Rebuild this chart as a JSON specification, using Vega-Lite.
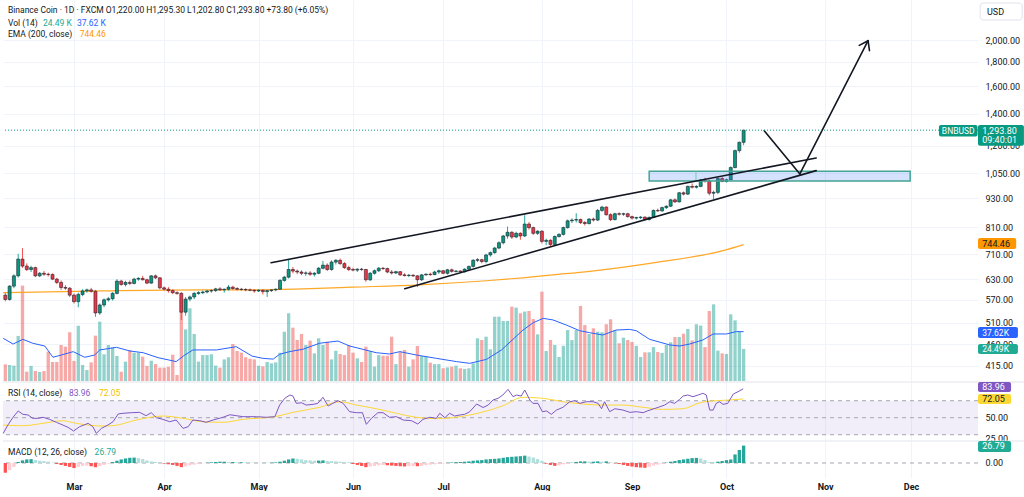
{
"$schema": "https://vega.github.io/schema/vega-lite/v6.json",
"padding": 0,
"background": "#ffffff",
"bounds": "flush",
"spacing": 1,
"config": {
  "view": {"stroke": null},
  "font": "Roboto",
  "axis": {"labelFont": "Roboto", "labelFontSize": 9, "labelColor": "#131722", "domain": false, "ticks": false, "gridColor": "#f0f3fa", "gridWidth": 1, "labelOverlap": false, "labelFlush": false, "zindex": 0},
  "text": {"font": "Roboto"}
},
"datasets": {
"candles": [
{"i":-16,"o":583,"h":590,"l":566,"c":571,"v":12.7,"m":-15},
{"i":-15,"o":571,"h":612,"l":568,"c":609,"v":12.2,"m":-11},
{"i":-14,"o":609,"h":645,"l":603,"c":640,"v":11.7,"m":-6},
{"i":-13,"o":640,"h":712,"l":635,"c":694,"v":34.4,"m":1.5},
{"i":-12,"o":694,"h":732,"l":665,"c":671,"v":72.8,"m":4},
{"i":-11,"o":671,"h":680,"l":655,"c":660,"v":7.1,"m":5.5},
{"i":-10,"o":660,"h":672,"l":652,"c":666,"v":11.5,"m":5.9},
{"i":-9,"o":666,"h":669,"l":636,"c":640,"v":7.6,"m":4.5},
{"i":-8,"o":640,"h":652,"l":636,"c":648,"v":6.9,"m":3.5},
{"i":-7,"o":648,"h":655,"l":640,"c":645,"v":7.6,"m":3},
{"i":-6,"o":645,"h":650,"l":638,"c":644,"v":22.4,"m":2},
{"i":-5,"o":644,"h":648,"l":627,"c":630,"v":14.5,"m":0.5},
{"i":-4,"o":630,"h":634,"l":615,"c":620,"v":14.5,"m":-1.5},
{"i":-3,"o":620,"h":626,"l":598,"c":605,"v":27.5,"m":-3},
{"i":-2,"o":605,"h":612,"l":598,"c":603,"v":26.2,"m":-4.5},
{"i":-1,"o":603,"h":606,"l":578,"c":583,"v":37.2,"m":-6},
{"i":0,"o":583,"h":588,"l":560,"c":565,"v":15.3,"m":-7.8},
{"i":1,"o":565,"h":590,"l":550,"c":585,"v":42.2,"m":-6},
{"i":2,"o":585,"h":600,"l":580,"c":595,"v":12.2,"m":-4.5},
{"i":3,"o":595,"h":602,"l":590,"c":598,"v":8.4,"m":-4},
{"i":4,"o":598,"h":604,"l":590,"c":594,"v":14.2,"m":-5},
{"i":5,"o":594,"h":598,"l":525,"c":535,"v":34.6,"m":-6.5},
{"i":6,"o":535,"h":560,"l":530,"c":556,"v":45.3,"m":-5},
{"i":7,"o":556,"h":574,"l":550,"c":570,"v":20.4,"m":-3},
{"i":8,"o":570,"h":578,"l":565,"c":573,"v":27.5,"m":-1},
{"i":9,"o":573,"h":592,"l":568,"c":588,"v":25.7,"m":1.5},
{"i":10,"o":588,"h":630,"l":585,"c":624,"v":19.1,"m":3.5},
{"i":11,"o":624,"h":628,"l":610,"c":614,"v":7.1,"m":5.5},
{"i":12,"o":614,"h":625,"l":608,"c":620,"v":14.8,"m":7},
{"i":13,"o":620,"h":626,"l":612,"c":617,"v":23.7,"m":8},
{"i":14,"o":617,"h":634,"l":614,"c":630,"v":21.6,"m":8.3},
{"i":15,"o":630,"h":636,"l":625,"c":632,"v":21.6,"m":7.5},
{"i":16,"o":632,"h":640,"l":626,"c":628,"v":18.6,"m":6},
{"i":17,"o":628,"h":632,"l":615,"c":618,"v":11.5,"m":4},
{"i":18,"o":618,"h":642,"l":616,"c":640,"v":15.5,"m":2.5},
{"i":19,"o":640,"h":644,"l":630,"c":634,"v":13,"m":1.5},
{"i":20,"o":634,"h":636,"l":600,"c":604,"v":10.2,"m":0.5},
{"i":21,"o":604,"h":608,"l":596,"c":600,"v":10.2,"m":-1},
{"i":22,"o":600,"h":606,"l":590,"c":596,"v":10.9,"m":-2},
{"i":23,"o":596,"h":600,"l":586,"c":590,"v":20.1,"m":-3},
{"i":24,"o":590,"h":594,"l":584,"c":588,"v":4.6,"m":-4.5},
{"i":25,"o":588,"h":592,"l":517,"c":537,"v":61.8,"m":-6.4},
{"i":26,"o":537,"h":578,"l":528,"c":572,"v":39.4,"m":-5},
{"i":27,"o":572,"h":582,"l":566,"c":578,"v":55.5,"m":-3.5},
{"i":28,"o":578,"h":592,"l":572,"c":588,"v":35.9,"m":-2.5},
{"i":29,"o":588,"h":594,"l":584,"c":590,"v":14.8,"m":-1.5},
{"i":30,"o":590,"h":596,"l":586,"c":592,"v":19.8,"m":-0.5},
{"i":31,"o":592,"h":598,"l":588,"c":595,"v":19.8,"m":0.5},
{"i":32,"o":595,"h":600,"l":590,"c":596,"v":20.4,"m":1},
{"i":33,"o":596,"h":604,"l":592,"c":601,"v":11.7,"m":1.5},
{"i":34,"o":601,"h":606,"l":595,"c":598,"v":10.2,"m":2},
{"i":35,"o":598,"h":602,"l":590,"c":600,"v":16.5,"m":2},
{"i":36,"o":600,"h":612,"l":596,"c":606,"v":18.1,"m":1.5},
{"i":37,"o":606,"h":610,"l":598,"c":602,"v":28.2,"m":1.5},
{"i":38,"o":602,"h":606,"l":596,"c":600,"v":22.9,"m":1},
{"i":39,"o":600,"h":604,"l":596,"c":599,"v":21.6,"m":1},
{"i":40,"o":599,"h":603,"l":594,"c":598,"v":18.1,"m":0.8},
{"i":41,"o":598,"h":602,"l":594,"c":597,"v":17,"m":0.6},
{"i":42,"o":597,"h":600,"l":590,"c":595,"v":16.5,"m":0.4},
{"i":43,"o":595,"h":600,"l":592,"c":597,"v":11.7,"m":0.3},
{"i":44,"o":597,"h":600,"l":585,"c":593,"v":11.2,"m":0.2},
{"i":45,"o":593,"h":598,"l":578,"c":596,"v":14.5,"m":0.2},
{"i":46,"o":596,"h":600,"l":592,"c":598,"v":13.5,"m":0.5},
{"i":47,"o":598,"h":602,"l":594,"c":600,"v":14.2,"m":1},
{"i":48,"o":600,"h":630,"l":598,"c":626,"v":21.6,"m":2},
{"i":49,"o":626,"h":640,"l":622,"c":636,"v":37.6,"m":3.5},
{"i":50,"o":636,"h":692,"l":632,"c":660,"v":51.7,"m":5.5},
{"i":51,"o":660,"h":668,"l":648,"c":655,"v":40.7,"m":6.9},
{"i":52,"o":655,"h":660,"l":645,"c":652,"v":31.3,"m":6.5},
{"i":53,"o":652,"h":657,"l":642,"c":648,"v":35.9,"m":5.5},
{"i":54,"o":648,"h":654,"l":640,"c":649,"v":27.5,"m":4.5},
{"i":55,"o":649,"h":655,"l":640,"c":645,"v":30.8,"m":4},
{"i":56,"o":645,"h":652,"l":638,"c":648,"v":21.1,"m":3.5},
{"i":57,"o":648,"h":668,"l":645,"c":664,"v":32.6,"m":3.7},
{"i":58,"o":664,"h":688,"l":660,"c":674,"v":27.5,"m":4},
{"i":59,"o":674,"h":680,"l":655,"c":660,"v":30,"m":3},
{"i":60,"o":660,"h":690,"l":656,"c":684,"v":16.5,"m":2.8},
{"i":61,"o":684,"h":694,"l":676,"c":690,"v":23.1,"m":2.5},
{"i":62,"o":690,"h":696,"l":675,"c":679,"v":20.6,"m":2},
{"i":63,"o":679,"h":684,"l":662,"c":666,"v":19.8,"m":1.5},
{"i":64,"o":666,"h":672,"l":655,"c":660,"v":27.5,"m":1},
{"i":65,"o":660,"h":666,"l":654,"c":658,"v":21.6,"m":-1.5},
{"i":66,"o":658,"h":664,"l":652,"c":661,"v":17.3,"m":-3},
{"i":67,"o":661,"h":665,"l":655,"c":660,"v":14.5,"m":-4.5},
{"i":68,"o":660,"h":662,"l":622,"c":628,"v":26.2,"m":-6.4},
{"i":69,"o":628,"h":652,"l":624,"c":648,"v":22.9,"m":-5.5},
{"i":70,"o":648,"h":660,"l":644,"c":656,"v":11,"m":-4.5},
{"i":71,"o":656,"h":668,"l":652,"c":664,"v":19.8,"m":-3.5},
{"i":72,"o":664,"h":668,"l":658,"c":663,"v":19.3,"m":-3},
{"i":73,"o":663,"h":666,"l":648,"c":652,"v":19.3,"m":-3.5},
{"i":74,"o":652,"h":658,"l":644,"c":649,"v":33.8,"m":-4},
{"i":75,"o":649,"h":656,"l":646,"c":653,"v":12.9,"m":-4.5},
{"i":76,"o":653,"h":655,"l":640,"c":643,"v":22.4,"m":-5},
{"i":77,"o":643,"h":648,"l":638,"c":641,"v":23.7,"m":-5.3},
{"i":78,"o":641,"h":646,"l":636,"c":642,"v":11,"m":-5},
{"i":79,"o":642,"h":645,"l":636,"c":640,"v":16.5,"m":-4.5},
{"i":80,"o":640,"h":642,"l":606,"c":628,"v":26.7,"m":-5},
{"i":81,"o":628,"h":646,"l":624,"c":643,"v":19,"m":-4.5},
{"i":82,"o":643,"h":648,"l":640,"c":645,"v":18.6,"m":-3.5},
{"i":83,"o":645,"h":650,"l":640,"c":644,"v":14,"m":-2.5},
{"i":84,"o":644,"h":656,"l":642,"c":652,"v":12.9,"m":-2},
{"i":85,"o":652,"h":660,"l":646,"c":656,"v":12.9,"m":-1.5},
{"i":86,"o":656,"h":658,"l":645,"c":648,"v":9.7,"m":-0.8},
{"i":87,"o":648,"h":662,"l":644,"c":659,"v":10.4,"m":0.3},
{"i":88,"o":659,"h":663,"l":650,"c":654,"v":11,"m":0.8},
{"i":89,"o":654,"h":658,"l":650,"c":655,"v":11.7,"m":1.2},
{"i":90,"o":655,"h":658,"l":650,"c":653,"v":9.7,"m":1.5},
{"i":91,"o":653,"h":664,"l":650,"c":661,"v":9.2,"m":2},
{"i":92,"o":661,"h":672,"l":658,"c":670,"v":9.7,"m":2.5},
{"i":93,"o":670,"h":694,"l":666,"c":690,"v":13.5,"m":3.5},
{"i":94,"o":690,"h":697,"l":684,"c":692,"v":32.6,"m":4},
{"i":95,"o":692,"h":695,"l":680,"c":686,"v":31.3,"m":4.5},
{"i":96,"o":686,"h":712,"l":680,"c":708,"v":33.8,"m":5.5},
{"i":97,"o":708,"h":720,"l":702,"c":716,"v":24.2,"m":6},
{"i":98,"o":716,"h":736,"l":712,"c":732,"v":49.1,"m":6.4},
{"i":99,"o":732,"h":756,"l":728,"c":751,"v":49.1,"m":7},
{"i":100,"o":751,"h":780,"l":745,"c":776,"v":45.8,"m":8},
{"i":101,"o":776,"h":812,"l":766,"c":790,"v":45.8,"m":9},
{"i":102,"o":790,"h":794,"l":765,"c":772,"v":56.7,"m":9.5},
{"i":103,"o":772,"h":792,"l":768,"c":786,"v":56,"m":10},
{"i":104,"o":786,"h":790,"l":762,"c":776,"v":51.7,"m":10.5},
{"i":105,"o":776,"h":858,"l":772,"c":822,"v":53,"m":11.3},
{"i":106,"o":822,"h":830,"l":800,"c":808,"v":53.4,"m":10},
{"i":107,"o":808,"h":812,"l":780,"c":786,"v":47.3,"m":8.5},
{"i":108,"o":786,"h":798,"l":780,"c":794,"v":35.6,"m":6},
{"i":109,"o":794,"h":798,"l":748,"c":756,"v":68.2,"m":3.5},
{"i":110,"o":756,"h":766,"l":742,"c":760,"v":22.9,"m":-1},
{"i":111,"o":760,"h":764,"l":738,"c":745,"v":31.3,"m":-3},
{"i":112,"o":745,"h":778,"l":742,"c":774,"v":27.5,"m":-4.4},
{"i":113,"o":774,"h":786,"l":770,"c":782,"v":18.3,"m":-3.5},
{"i":114,"o":782,"h":812,"l":778,"c":808,"v":26.9,"m":-2},
{"i":115,"o":808,"h":840,"l":804,"c":835,"v":38.9,"m":-1},
{"i":116,"o":835,"h":845,"l":826,"c":838,"v":31.2,"m":0.5},
{"i":117,"o":838,"h":866,"l":828,"c":840,"v":38.9,"m":1.5},
{"i":118,"o":840,"h":844,"l":822,"c":828,"v":57.3,"m":2.5},
{"i":119,"o":828,"h":834,"l":816,"c":824,"v":42.7,"m":2.5},
{"i":120,"o":824,"h":846,"l":820,"c":842,"v":35.9,"m":2},
{"i":121,"o":842,"h":848,"l":832,"c":838,"v":40.2,"m":2},
{"i":122,"o":838,"h":884,"l":834,"c":878,"v":37.7,"m":2.5},
{"i":123,"o":878,"h":898,"l":872,"c":892,"v":37.2,"m":2},
{"i":124,"o":892,"h":896,"l":856,"c":860,"v":43.3,"m":2.5},
{"i":125,"o":860,"h":866,"l":834,"c":840,"v":47.1,"m":1},
{"i":126,"o":840,"h":868,"l":836,"c":864,"v":38.9,"m":-0.5},
{"i":127,"o":864,"h":870,"l":856,"c":862,"v":28.8,"m":-1.5},
{"i":128,"o":862,"h":868,"l":855,"c":864,"v":33.1,"m":-3},
{"i":129,"o":864,"h":868,"l":848,"c":852,"v":31.3,"m":-4.5},
{"i":130,"o":852,"h":856,"l":840,"c":846,"v":29.8,"m":-5.5},
{"i":131,"o":846,"h":852,"l":840,"c":848,"v":26.9,"m":-6.5},
{"i":132,"o":848,"h":854,"l":842,"c":850,"v":18.3,"m":-7},
{"i":133,"o":850,"h":853,"l":836,"c":840,"v":21.9,"m":-7.4},
{"i":134,"o":840,"h":852,"l":836,"c":849,"v":21.9,"m":-6},
{"i":135,"o":849,"h":882,"l":846,"c":878,"v":25.9,"m":-4},
{"i":136,"o":878,"h":886,"l":872,"c":876,"v":22.1,"m":-2.5},
{"i":137,"o":876,"h":894,"l":872,"c":890,"v":21.4,"m":-1},
{"i":138,"o":890,"h":900,"l":884,"c":896,"v":27.5,"m":0.5},
{"i":139,"o":896,"h":928,"l":892,"c":924,"v":29.5,"m":2},
{"i":140,"o":924,"h":930,"l":910,"c":915,"v":33.6,"m":3},
{"i":141,"o":915,"h":960,"l":912,"c":956,"v":33.6,"m":4.5},
{"i":142,"o":956,"h":962,"l":944,"c":950,"v":36.1,"m":5.5},
{"i":143,"o":950,"h":990,"l":946,"c":986,"v":39.7,"m":6.5},
{"i":144,"o":986,"h":1000,"l":976,"c":982,"v":31,"m":7.5},
{"i":145,"o":982,"h":992,"l":976,"c":986,"v":43.3,"m":7.8},
{"i":146,"o":986,"h":1022,"l":982,"c":1016,"v":42.3,"m":7},
{"i":147,"o":1016,"h":1028,"l":1004,"c":1012,"v":25.9,"m":4.5},
{"i":148,"o":1012,"h":1018,"l":944,"c":954,"v":53.4,"m":1.5},
{"i":149,"o":954,"h":966,"l":928,"c":958,"v":58.5,"m":1},
{"i":150,"o":958,"h":1030,"l":950,"c":1024,"v":23.2,"m":2},
{"i":151,"o":1024,"h":1032,"l":1006,"c":1010,"v":21.1,"m":3},
{"i":152,"o":1010,"h":1024,"l":1004,"c":1018,"v":20.6,"m":4.4},
{"i":153,"o":1018,"h":1086,"l":1014,"c":1080,"v":50.9,"m":5.4},
{"i":154,"o":1080,"h":1178,"l":1076,"c":1172,"v":46.3,"m":13.2},
{"i":155,"o":1172,"h":1225,"l":1160,"c":1220,"v":37.7,"m":20},
{"i":156,"o":1220,"h":1295.3,"l":1202.8,"c":1293.8,"v":24.49,"m":26.79}
],
"ema": [
{"i":-16.5,"e":590},{"i":6.8,"e":595},{"i":30,"e":598},{"i":41.7,"e":598},{"i":53.4,"e":601},{"i":65,"e":606},{"i":80.5,"e":613},{"i":96,"e":625},{"i":104.6,"e":634},{"i":111.6,"e":643},{"i":120.1,"e":654},{"i":135.7,"e":683},{"i":151.2,"e":723},{"i":156,"e":744.46}
],
"vma": [
{"i":-16.5,"v":32.6},{"i":-14.2,"v":28.2},{"i":-11.9,"v":31.8},{"i":-9.6,"v":28.8},{"i":-6.8,"v":26.7},{"i":-4.9,"v":18.1},{"i":-3,"v":19.8},{"i":-0.2,"v":22.4},{"i":2.5,"v":18.1},{"i":4.8,"v":19.8},{"i":6,"v":23.7},{"i":9.9,"v":25.7},{"i":13,"v":22.9},{"i":16.1,"v":21.6},{"i":19.6,"v":17.8},{"i":23.8,"v":14.8},{"i":25.8,"v":19.8},{"i":27.7,"v":23.7},{"i":33.2,"v":23.7},{"i":37.8,"v":26.2},{"i":41.5,"v":19},{"i":44,"v":17.3},{"i":46.4,"v":16.7},{"i":47.9,"v":20.4},{"i":50.2,"v":22.4},{"i":53.3,"v":24.2},{"i":57.2,"v":28.8},{"i":61.5,"v":30.5},{"i":64.2,"v":26.7},{"i":67.3,"v":24.2},{"i":70.4,"v":21.6},{"i":73.5,"v":20.6},{"i":75.9,"v":22.4},{"i":79.8,"v":19.8},{"i":84.4,"v":17.3},{"i":89.1,"v":14.8},{"i":92.2,"v":13.5},{"i":96.1,"v":16.5},{"i":99.6,"v":23.7},{"i":104.6,"v":38.9},{"i":107,"v":44.5},{"i":109.3,"v":47.8},{"i":111.6,"v":46.6},{"i":114.7,"v":42.7},{"i":117.8,"v":38.4},{"i":120.1,"v":36.9},{"i":123.2,"v":35.1},{"i":126.3,"v":38.9},{"i":129.4,"v":39.4},{"i":131,"v":38.4},{"i":134.1,"v":31.8},{"i":138.8,"v":27.5},{"i":141.1,"v":26.7},{"i":143.4,"v":28.2},{"i":146.5,"v":31.3},{"i":148.9,"v":35.9},{"i":152,"v":35.9},{"i":154.3,"v":37.7},{"i":156,"v":37.62}
],
"rsi": [
{"i":-16.5,"r":31.6},{"i":-15.4,"r":41.4},{"i":-14.2,"r":50.5},{"i":-13,"r":57.9},{"i":-11.9,"r":54},{"i":-10.7,"r":53.2},{"i":-9.6,"r":49.3},{"i":-8.4,"r":49.3},{"i":-7.2,"r":50.5},{"i":-5.7,"r":48.1},{"i":-4.1,"r":44.6},{"i":-2.6,"r":41.4},{"i":-1.4,"r":38.7},{"i":-0.1,"r":34.4},{"i":1.3,"r":39.4},{"i":3.3,"r":43.4},{"i":4.4,"r":39.4},{"i":5.2,"r":31.6},{"i":6.4,"r":37.5},{"i":7.9,"r":41.4},{"i":9.1,"r":45.3},{"i":10.3,"r":54.4},{"i":11.4,"r":55.2},{"i":13.4,"r":55.9},{"i":15.3,"r":56.3},{"i":16.8,"r":52.4},{"i":18,"r":55.9},{"i":19.2,"r":50},{"i":20.7,"r":48.1},{"i":22.3,"r":45.3},{"i":23.8,"r":47.3},{"i":25.4,"r":37.5},{"i":26.6,"r":39.4},{"i":27.7,"r":47.3},{"i":29.3,"r":46.5},{"i":30.8,"r":44.6},{"i":32.4,"r":47.3},{"i":34.7,"r":50.5},{"i":36.3,"r":53.5},{"i":37.8,"r":52.4},{"i":39.4,"r":51.2},{"i":42.5,"r":51.2},{"i":44.8,"r":50.5},{"i":46.8,"r":51.2},{"i":47.9,"r":64.9},{"i":49.1,"r":72.8},{"i":50.3,"r":76.7},{"i":51,"r":75.5},{"i":51.8,"r":66.9},{"i":53,"r":67.6},{"i":54.1,"r":64.9},{"i":55.7,"r":65.7},{"i":56.8,"r":66.9},{"i":58,"r":74},{"i":59.2,"r":63.8},{"i":60.3,"r":66.9},{"i":61.5,"r":70},{"i":62.7,"r":66.9},{"i":64.2,"r":57.1},{"i":65.8,"r":55.9},{"i":67.2,"r":55.9},{"i":68.1,"r":42.2},{"i":69.3,"r":49.3},{"i":70.8,"r":55.9},{"i":72,"r":55.9},{"i":73.5,"r":50.5},{"i":75.1,"r":51.2},{"i":76.7,"r":47.3},{"i":78.6,"r":46.5},{"i":80.1,"r":42.6},{"i":81.3,"r":48.1},{"i":82.9,"r":50.5},{"i":84.4,"r":49.3},{"i":85.2,"r":55.2},{"i":86.4,"r":50},{"i":87.5,"r":55.2},{"i":88.7,"r":52},{"i":89.9,"r":53.2},{"i":91,"r":54},{"i":92.2,"r":57.1},{"i":93.8,"r":66.1},{"i":95.3,"r":62},{"i":96.5,"r":64.9},{"i":97.6,"r":70.8},{"i":98.8,"r":72.8},{"i":99.9,"r":76.7},{"i":101.1,"r":83.3},{"i":102.3,"r":74.7},{"i":103.1,"r":76.7},{"i":104.2,"r":75.5},{"i":105,"r":82.6},{"i":106.2,"r":70.8},{"i":106.9,"r":66.9},{"i":108.1,"r":66.9},{"i":109.1,"r":57.1},{"i":110.1,"r":57.9},{"i":111.2,"r":54},{"i":112.4,"r":59},{"i":113.9,"r":62.2},{"i":115.5,"r":68.8},{"i":116.7,"r":70},{"i":117.8,"r":66.9},{"i":119.4,"r":68.8},{"i":120.9,"r":68.8},{"i":122.1,"r":66.9},{"i":122.9,"r":60.6},{"i":123.6,"r":68.8},{"i":124.8,"r":57.1},{"i":126,"r":60.6},{"i":127.9,"r":59},{"i":129.5,"r":56.3},{"i":131,"r":57.1},{"i":132.6,"r":55.9},{"i":133.7,"r":58.2},{"i":134.9,"r":60.2},{"i":136.5,"r":62.9},{"i":137.6,"r":64.9},{"i":138.8,"r":68.8},{"i":139.9,"r":66.9},{"i":141.1,"r":71.6},{"i":141.9,"r":75.5},{"i":143,"r":76.7},{"i":144.2,"r":74.7},{"i":145.4,"r":76.7},{"i":146.5,"r":78.7},{"i":147.3,"r":76.7},{"i":148.1,"r":59},{"i":148.9,"r":59},{"i":149.6,"r":66.9},{"i":150.4,"r":68.8},{"i":151.2,"r":65.7},{"i":152.3,"r":66.9},{"i":153.6,"r":77.9},{"i":154.7,"r":80.6},{"i":155.9,"r":83.96}
],
"rsima": [
{"i":-16.5,"r":41.4},{"i":-11.9,"r":40.6},{"i":-7.2,"r":43.4},{"i":-2.6,"r":46.5},{"i":0.5,"r":43.4},{"i":6.8,"r":40.2},{"i":9.1,"r":40.6},{"i":14.5,"r":47.3},{"i":20.7,"r":52},{"i":25.4,"r":49.3},{"i":30,"r":45.3},{"i":34.7,"r":44.6},{"i":39.4,"r":48.1},{"i":46.8,"r":51.2},{"i":51,"r":56.3},{"i":57.2,"r":62.2},{"i":61.9,"r":68.8},{"i":65.8,"r":64.9},{"i":70.4,"r":60.6},{"i":75.1,"r":55.2},{"i":79.7,"r":50.5},{"i":84.4,"r":48.9},{"i":92.2,"r":53.2},{"i":99.9,"r":64},{"i":104.6,"r":74},{"i":109.3,"r":72.8},{"i":113.9,"r":68.8},{"i":118.6,"r":66.1},{"i":123.3,"r":64.9},{"i":127.9,"r":64.9},{"i":132.6,"r":62.2},{"i":137.3,"r":59.8},{"i":141.9,"r":60.6},{"i":145.8,"r":67.6},{"i":149.6,"r":70},{"i":152.7,"r":70.8},{"i":155.9,"r":72.05}
],
"lines": [
{"i1":45.9,"p1":682,"i2":172.9,"p2":1131},
{"i1":77.05,"p1":601.6,"i2":172.9,"p2":1064},
{"i1":160.8,"p1":1290.6,"i2":169.1,"p2":1047},
{"i1":169.1,"p1":1047,"i2":184.99,"p2":1993.2},
{"i1":182.94,"p1":1948.5,"i2":184.99,"p2":1993.2},
{"i1":185.32,"p1":1900.2,"i2":184.99,"p2":1993.2}
],
"zone": [
{"i1":134.0,"i2":194.8,"p1":1060.6,"p2":1012}
]
},
"vconcat": [
{
  "width": 975,
  "height": 381,
  "layer": [
    {
      "data": {"name": "candles"},
      "layer": [
        {
          "mark": {"type": "bar", "size": 3.3, "opacity": 0.5},
          "encoding": {
            "x": {"field": "i", "type": "quantitative", "scale": {"domain": [-16.54, 210.6], "nice": false, "zero": false, "padding": 0},
                  "axis": {"values": [0,21,43,65,86,109,130,152,175,195], "labels": false, "grid": true, "title": null}},
            "y": {"field": "v", "type": "quantitative", "scale": {"domain": [0, 290.8], "nice": false}, "axis": null},
            "color": {"condition": {"test": "datum.c >= datum.o", "value": "#26a69a"}, "value": "#ef5350"}
          }
        },
        {
          "data": {"name": "vma"},
          "mark": {"type": "line", "color": "#2962ff", "strokeWidth": 1},
          "encoding": {"x": {"field": "i", "type": "quantitative"}, "y": {"field": "v", "type": "quantitative"}}
        },
        {
          "data": {"values": [{}]},
          "mark": {"type": "rect", "color": "#2962ff", "cornerRadius": 2},
          "encoding": {"x": {"datum": 210.6}, "x2": {"datum": 219.9}, "y": {"datum": 41.2}, "y2": {"datum": 32.8}}
        },
        {
          "data": {"values": [{}]},
          "mark": {"type": "text", "text": "37.62K", "color": "#ffffff", "align": "left", "baseline": "middle", "fontSize": 8.5},
          "encoding": {"x": {"datum": 211.6}, "y": {"datum": 37}}
        },
        {
          "data": {"values": [{}]},
          "mark": {"type": "rect", "color": "#22ab94", "cornerRadius": 2},
          "encoding": {"x": {"datum": 210.6}, "x2": {"datum": 219.9}, "y": {"datum": 28.2}, "y2": {"datum": 20.6}}
        },
        {
          "data": {"values": [{}]},
          "mark": {"type": "text", "text": "24.49K", "color": "#ffffff", "align": "left", "baseline": "middle", "fontSize": 8.5},
          "encoding": {"x": {"datum": 211.6}, "y": {"datum": 24.4}}
        }
      ]
    },
    {
      "data": {"name": "candles"},
      "layer": [
        {
          "data": {"name": "ema"},
          "mark": {"type": "line", "color": "#ffa726", "strokeWidth": 1.2, "interpolate": "monotone"},
          "encoding": {
            "x": {"field": "i", "type": "quantitative"},
            "y": {"field": "e", "type": "quantitative", "scale": {"type": "log", "domain": [385.1, 2426.4], "nice": false, "zero": false},
                  "axis": {"orient": "right", "values": [415,460,510,570,630,710,810,930,1050,1200,1400,1600,1800,2000], "format": ",.2f", "grid": true, "title": null, "labelPadding": 7}}
          }
        },
        {
          "data": {"values": [{}]},
          "mark": {"type": "rule", "opacity": 0, "strokeWidth": 1},
          "encoding": {"x": {"datum": -16.54}, "x2": {"datum": 222.04}, "y": {"datum": 2400}}
        },
        {
          "mark": {"type": "rule", "strokeWidth": 1},
          "encoding": {
            "x": {"field": "i", "type": "quantitative"},
            "y": {"field": "l", "type": "quantitative"},
            "y2": {"field": "h"},
            "color": {"condition": {"test": "datum.c >= datum.o", "value": "#26a69a"}, "value": "#ef5350"}
          }
        },
        {
          "mark": {"type": "bar", "size": 3, "stroke": "#1e222d", "strokeWidth": 0.6},
          "encoding": {
            "x": {"field": "i", "type": "quantitative"},
            "y": {"field": "o", "type": "quantitative"},
            "y2": {"field": "c"},
            "fill": {"condition": {"test": "datum.c >= datum.o", "value": "#089981"}, "value": "#f23645"}
          }
        },
        {
          "data": {"name": "zone"},
          "mark": {"type": "rect", "fill": "#3d7bf5", "fillOpacity": 0.22, "stroke": "#45a493", "strokeWidth": 1.5},
          "encoding": {
            "x": {"field": "i1", "type": "quantitative"}, "x2": {"field": "i2"},
            "y": {"field": "p1", "type": "quantitative"}, "y2": {"field": "p2"}
          }
        },
        {
          "data": {"values": [{}]},
          "mark": {"type": "rule", "color": "#7cc4b8", "strokeWidth": 1},
          "encoding": {"x": {"datum": 144.9}, "y": {"datum": 1060.6}, "y2": {"datum": 1012}}
        },
        {
          "data": {"name": "lines"},
          "mark": {"type": "rule", "color": "#131722", "strokeWidth": 1.6, "strokeCap": "round"},
          "encoding": {
            "x": {"field": "i1", "type": "quantitative"}, "x2": {"field": "i2"},
            "y": {"field": "p1", "type": "quantitative"}, "y2": {"field": "p2"}
          }
        },
        {
          "data": {"values": [{}]},
          "mark": {"type": "rule", "color": "#089981", "strokeWidth": 1, "strokeDash": [1, 2]},
          "encoding": {"y": {"datum": 1293.8}}
        },
        {
          "data": {"values": [{}]},
          "mark": {"type": "rect", "color": "#089981", "cornerRadius": 2},
          "encoding": {"x": {"datum": 201.5}, "x2": {"datum": 210.5}, "y": {"datum": 1326}, "y2": {"datum": 1255}}
        },
        {
          "data": {"values": [{}]},
          "mark": {"type": "text", "text": "BNBUSD", "color": "#ffffff", "align": "center", "baseline": "middle", "fontSize": 8.5},
          "encoding": {"x": {"datum": 206}, "y": {"datum": 1290}}
        },
        {
          "data": {"values": [{}]},
          "mark": {"type": "rect", "color": "#089981", "cornerRadius": 2},
          "encoding": {"x": {"datum": 210.6}, "x2": {"datum": 221.3}, "y": {"datum": 1326}, "y2": {"datum": 1200}}
        },
        {
          "data": {"values": [{}]},
          "mark": {"type": "text", "text": "1,293.80", "color": "#ffffff", "align": "left", "baseline": "middle", "fontSize": 9},
          "encoding": {"x": {"datum": 211.6}, "y": {"datum": 1291}}
        },
        {
          "data": {"values": [{}]},
          "mark": {"type": "text", "text": "09:40:01", "color": "#ffffff", "align": "left", "baseline": "middle", "fontSize": 9},
          "encoding": {"x": {"datum": 211.6}, "y": {"datum": 1231}}
        },
        {
          "data": {"values": [{}]},
          "mark": {"type": "rect", "color": "#ff9800", "cornerRadius": 2},
          "encoding": {"x": {"datum": 210.6}, "x2": {"datum": 219.5}, "y": {"datum": 768.4}, "y2": {"datum": 728.6}}
        },
        {
          "data": {"values": [{}]},
          "mark": {"type": "text", "text": "744.46", "color": "#131722", "align": "left", "baseline": "middle", "fontSize": 9},
          "encoding": {"x": {"datum": 211.6}, "y": {"datum": 748}}
        },
        {
          "data": {"values": [{}]},
          "mark": {"type": "rect", "fill": "#ffffff", "stroke": "#e0e3eb", "cornerRadius": 3},
          "encoding": {"x": {"datum": 211.1}, "x2": {"datum": 220.9}, "y": {"datum": 2391}, "y2": {"datum": 2203}}
        },
        {
          "data": {"values": [{}]},
          "mark": {"type": "text", "text": "USD", "color": "#131722", "align": "left", "baseline": "middle", "fontSize": 9},
          "encoding": {"x": {"datum": 212.7}, "y": {"datum": 2295}}
        },
        {
          "data": {"values": [{}]},
          "mark": {"type": "text", "text": "Binance Coin · 1D · FXCM  O1,220.00  H1,295.30  L1,202.80  C1,293.80  +73.80 (+6.05%)", "color": "#131722", "align": "left", "baseline": "middle", "fontSize": 8.5},
          "encoding": {"x": {"datum": -15.38}, "y": {"datum": 2312}}
        },
        {
          "data": {"values": [{}]},
          "mark": {"type": "text", "text": "Vol (14)", "color": "#131722", "align": "left", "baseline": "middle", "fontSize": 8.5},
          "encoding": {"x": {"datum": -15.38}, "y": {"datum": 2174}}
        },
        {
          "data": {"values": [{}]},
          "mark": {"type": "text", "text": "24.49 K", "color": "#22ab94", "align": "left", "baseline": "middle", "fontSize": 8.5},
          "encoding": {"x": {"datum": -7.22}, "y": {"datum": 2174}}
        },
        {
          "data": {"values": [{}]},
          "mark": {"type": "text", "text": "37.62 K", "color": "#2962ff", "align": "left", "baseline": "middle", "fontSize": 8.5},
          "encoding": {"x": {"datum": 0.7}, "y": {"datum": 2174}}
        },
        {
          "data": {"values": [{}]},
          "mark": {"type": "text", "text": "EMA (200, close)", "color": "#131722", "align": "left", "baseline": "middle", "fontSize": 8.5},
          "encoding": {"x": {"datum": -15.38}, "y": {"datum": 2059}}
        },
        {
          "data": {"values": [{}]},
          "mark": {"type": "text", "text": "744.46", "color": "#ff9800", "align": "left", "baseline": "middle", "fontSize": 8.5},
          "encoding": {"x": {"datum": 1.33}, "y": {"datum": 2059}}
        }
      ]
    }
  ],
  "resolve": {"scale": {"y": "independent"}}
},
{
  "width": 975,
  "height": 58,
  "layer": [
    {
      "data": {"values": [{}]},
      "mark": {"type": "rect", "color": "#7e57c2", "opacity": 0.1},
      "encoding": {
        "x": {"datum": -16.54, "type": "quantitative", "scale": {"domain": [-16.54, 210.6], "nice": false, "zero": false, "padding": 0},
              "axis": {"values": [0,21,43,65,86,109,130,152,175,195], "labels": false, "grid": true, "title": null}},
        "x2": {"datum": 210.6},
        "y": {"datum": 70, "type": "quantitative", "scale": {"domain": [23.8, 92], "nice": false, "zero": false},
              "axis": {"orient": "right", "values": [25, 50], "format": ".2f", "grid": false, "title": null, "labelPadding": 7}},
        "y2": {"datum": 30}
      }
    },
    {
      "data": {"values": [{}]},
      "mark": {"type": "rule", "color": "#e0e3eb", "strokeWidth": 1},
      "encoding": {"x": {"datum": -16.54}, "x2": {"datum": 221.5}, "y": {"datum": 92}}
    },
    {
      "data": {"values": [{"r": 70}, {"r": 50}, {"r": 30}]},
      "mark": {"type": "rule", "color": "#a3a6af", "strokeWidth": 1, "strokeDash": [4, 4]},
      "encoding": {"y": {"field": "r", "type": "quantitative"}}
    },
    {
      "data": {"name": "rsima"},
      "mark": {"type": "line", "color": "#fdd835", "strokeWidth": 1, "interpolate": "monotone"},
      "encoding": {"x": {"field": "i", "type": "quantitative"}, "y": {"field": "r", "type": "quantitative"}}
    },
    {
      "data": {"name": "rsi"},
      "mark": {"type": "line", "color": "#7e57c2", "strokeWidth": 1},
      "encoding": {"x": {"field": "i", "type": "quantitative"}, "y": {"field": "r", "type": "quantitative"}}
    },
    {
      "data": {"values": [{}]},
      "mark": {"type": "rect", "color": "#7e57c2", "cornerRadius": 2},
      "encoding": {"x": {"datum": 210.6}, "x2": {"datum": 218.3}, "y": {"datum": 92}, "y2": {"datum": 80.2}}
    },
    {
      "data": {"values": [{}]},
      "mark": {"type": "text", "text": "83.96", "color": "#ffffff", "align": "left", "baseline": "middle", "fontSize": 9},
      "encoding": {"x": {"datum": 211.6}, "y": {"datum": 86.1}}
    },
    {
      "data": {"values": [{}]},
      "mark": {"type": "rect", "color": "#fdd835", "cornerRadius": 2},
      "encoding": {"x": {"datum": 210.6}, "x2": {"datum": 218.3}, "y": {"datum": 77.9}, "y2": {"datum": 66.1}}
    },
    {
      "data": {"values": [{}]},
      "mark": {"type": "text", "text": "72.05", "color": "#131722", "align": "left", "baseline": "middle", "fontSize": 9},
      "encoding": {"x": {"datum": 211.6}, "y": {"datum": 72}}
    },
    {
      "data": {"values": [{}]},
      "mark": {"type": "text", "text": "RSI (14, close)", "color": "#131722", "align": "left", "baseline": "middle", "fontSize": 8.5},
      "encoding": {"x": {"datum": -15.38}, "y": {"datum": 78.7}}
    },
    {
      "data": {"values": [{}]},
      "mark": {"type": "text", "text": "83.96", "color": "#7e57c2", "align": "left", "baseline": "middle", "fontSize": 8.5},
      "encoding": {"x": {"datum": -1.16}, "y": {"datum": 78.7}}
    },
    {
      "data": {"values": [{}]},
      "mark": {"type": "text", "text": "72.05", "color": "#f2c200", "align": "left", "baseline": "middle", "fontSize": 8.5},
      "encoding": {"x": {"datum": 5.82}, "y": {"datum": 78.7}}
    }
  ]
},
{
  "width": 975,
  "height": 37,
  "layer": [
    {
      "data": {"values": [{}]},
      "mark": {"type": "rule", "color": "#a3a6af", "strokeWidth": 1, "strokeDash": [4, 4]},
      "encoding": {
        "y": {"datum": 0, "type": "quantitative", "scale": {"domain": [-23.1, 33.85], "nice": false, "zero": false},
              "axis": {"orient": "right", "values": [0], "format": ".2f", "grid": false, "title": null, "labelPadding": 7}}
      }
    },
    {
      "data": {"values": [{}]},
      "mark": {"type": "rule", "color": "#e0e3eb", "strokeWidth": 1},
      "encoding": {"x": {"datum": -16.54}, "x2": {"datum": 221.5}, "y": {"datum": 33.85}}
    },
    {
      "data": {"name": "candles"},
      "transform": [{"window": [{"op": "lag", "field": "m", "as": "pm"}], "sort": [{"field": "i", "order": "ascending"}]}],
      "mark": {"type": "bar", "size": 3.3},
      "encoding": {
        "x": {"field": "i", "type": "quantitative", "scale": {"domain": [-16.54, 210.6], "nice": false, "zero": false, "padding": 0},
              "axis": {"values": [0,21,43,65,86,109,130,152,175,195], "grid": true, "title": null, "labelFontWeight": "bold", "labelFontSize": 9, "labelPadding": 4,
                       "labelExpr": "['Mar','Apr','May','Jun','Jul','Aug','Sep','Oct','Nov','Dec'][indexof([0,21,43,65,86,109,130,152,175,195], datum.value)]"}},
        "y": {"field": "m", "type": "quantitative"},
        "color": {"condition": [
          {"test": "datum.m >= 0 && datum.m >= datum.pm", "value": "#26a69a"},
          {"test": "datum.m >= 0", "value": "#b2dfdb"},
          {"test": "datum.m < datum.pm", "value": "#ff5252"}
        ], "value": "#ffcdd2"}
      }
    },
    {
      "data": {"values": [{}]},
      "mark": {"type": "rect", "color": "#22ab94", "cornerRadius": 2},
      "encoding": {"x": {"datum": 210.6}, "x2": {"datum": 218.3}, "y": {"datum": 33.8}, "y2": {"datum": 16.9}}
    },
    {
      "data": {"values": [{}]},
      "mark": {"type": "text", "text": "26.79", "color": "#ffffff", "align": "left", "baseline": "middle", "fontSize": 9},
      "encoding": {"x": {"datum": 211.6}, "y": {"datum": 25.4}}
    },
    {
      "data": {"values": [{}]},
      "mark": {"type": "text", "text": "MACD (12, 26, close)", "color": "#131722", "align": "left", "baseline": "middle", "fontSize": 8.5},
      "encoding": {"x": {"datum": -15.38}, "y": {"datum": 17.4}}
    },
    {
      "data": {"values": [{}]},
      "mark": {"type": "text", "text": "26.79", "color": "#22ab94", "align": "left", "baseline": "middle", "fontSize": 8.5},
      "encoding": {"x": {"datum": 4.8}, "y": {"datum": 17.4}}
    }
  ]
}
]
}
